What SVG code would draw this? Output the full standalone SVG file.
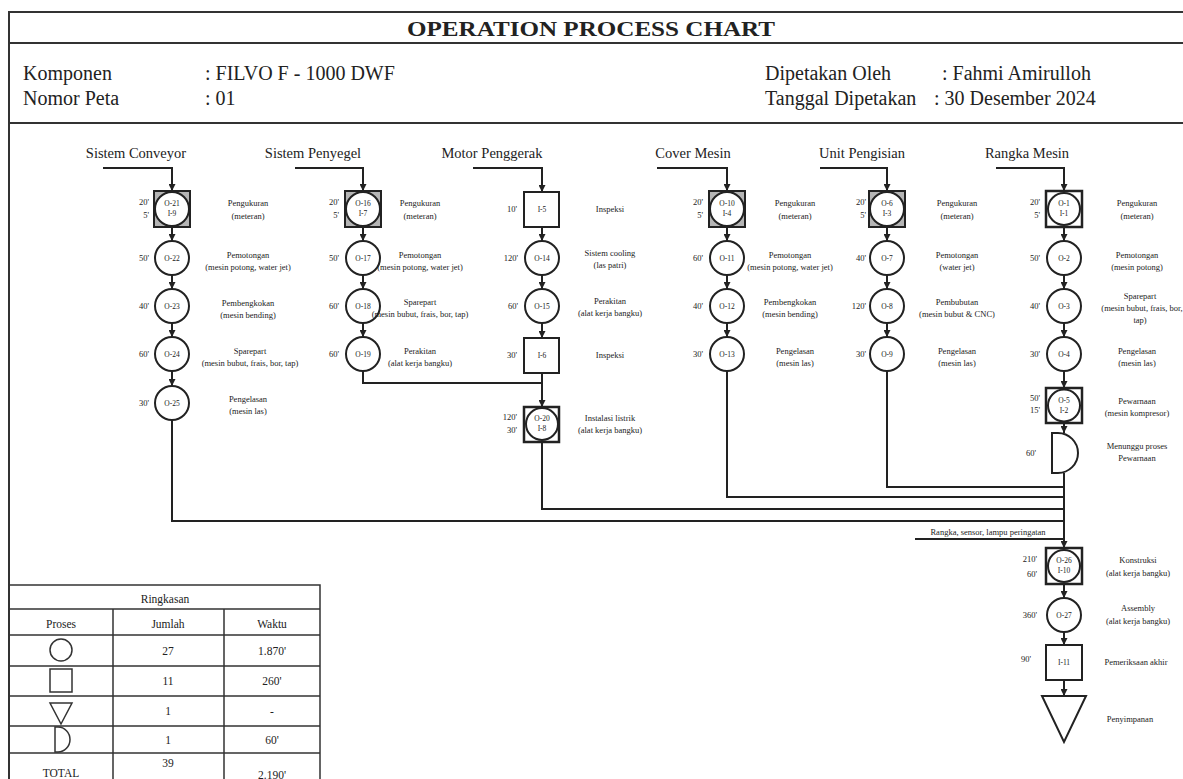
<svg xmlns="http://www.w3.org/2000/svg" width="1183" height="779" viewBox="0 0 1183 779">
<style>
text{font-family:"Liberation Serif","Times New Roman",serif;fill:#222}
.title{font-size:21px;font-weight:bold;text-anchor:middle}
.info{font-size:20px}
.h{font-size:14.5px;text-anchor:middle}
.lb{font-size:8.5px;text-anchor:middle}
.tm{font-size:8.5px;text-anchor:end}
.id{font-size:7.5px;text-anchor:middle}
.tb{font-size:11.5px;text-anchor:middle}
.frame{stroke:#333;stroke-width:2;fill:none}
.sh{stroke:#222;stroke-width:2;fill:#fff}
.shg{stroke:#222;stroke-width:2;fill:#b5b5b5}
.ln{stroke:#222;stroke-width:2;fill:none}
.ln2{stroke:#333;stroke-width:1.5;fill:none}
</style>
<defs>
<marker id="ar" markerWidth="7" markerHeight="7" refX="7" refY="3.5" orient="auto" markerUnits="userSpaceOnUse"><path d="M0,0 L7,3.5 L0,7 z" fill="#222"/></marker>
</defs>
<rect width="1183" height="779" fill="#fff"/>
<g id="frame">
<path class="frame" d="M9,779 V12 H1183"/>
<path class="frame" d="M9,43 H1183 M9,123 H1183"/>
<text class="title" x="591" y="36" textLength="368" lengthAdjust="spacingAndGlyphs">OPERATION PROCESS CHART</text>
<text class="info" x="23" y="80">Komponen</text>
<text class="info" x="205" y="80">: FILVO F - 1000 DWF</text>
<text class="info" x="23" y="105">Nomor Peta</text>
<text class="info" x="205" y="105">: 01</text>
<text class="info" x="765" y="80">Dipetakan Oleh</text>
<text class="info" x="942" y="80">: Fahmi Amirulloh</text>
<text class="info" x="765" y="105">Tanggal Dipetakan</text>
<text class="info" x="934" y="105">: 30 Desember 2024</text>
</g>
<g id="headers">
<text class="h" x="136" y="158">Sistem Conveyor</text>
<text class="h" x="313" y="158">Sistem Penyegel</text>
<text class="h" x="492" y="158">Motor Penggerak</text>
<text class="h" x="693" y="158">Cover Mesin</text>
<text class="h" x="862" y="158">Unit Pengisian</text>
<text class="h" x="1027" y="158">Rangka Mesin</text>
</g>
<g id="connectors">
<path class="ln" d="M103,168 H172 V191" marker-end="url(#ar)"/>
<path class="ln" d="M172,227 V241" marker-end="url(#ar)"/>
<path class="ln" d="M172,275 V289" marker-end="url(#ar)"/>
<path class="ln" d="M172,323 V337" marker-end="url(#ar)"/>
<path class="ln" d="M172,371 V386" marker-end="url(#ar)"/>
<path class="ln" d="M172,420 V521 H1064"/>
<path class="ln" d="M295,168 H363 V191" marker-end="url(#ar)"/>
<path class="ln" d="M363,227 V241" marker-end="url(#ar)"/>
<path class="ln" d="M363,275 V289" marker-end="url(#ar)"/>
<path class="ln" d="M363,323 V337" marker-end="url(#ar)"/>
<path class="ln" d="M363,371 V383 H542"/>
<path class="ln" d="M473,168 H542 V192" marker-end="url(#ar)"/>
<path class="ln" d="M542,227 V241" marker-end="url(#ar)"/>
<path class="ln" d="M542,275 V289" marker-end="url(#ar)"/>
<path class="ln" d="M542,323 V338" marker-end="url(#ar)"/>
<path class="ln" d="M542,373 V407" marker-end="url(#ar)"/>
<path class="ln" d="M542,442 V509 H1064"/>
<path class="ln" d="M657,168 H727 V191" marker-end="url(#ar)"/>
<path class="ln" d="M727,227 V241" marker-end="url(#ar)"/>
<path class="ln" d="M727,275 V289" marker-end="url(#ar)"/>
<path class="ln" d="M727,323 V337" marker-end="url(#ar)"/>
<path class="ln" d="M727,371 V497 H1064"/>
<path class="ln" d="M820,168 H887 V191" marker-end="url(#ar)"/>
<path class="ln" d="M887,227 V241" marker-end="url(#ar)"/>
<path class="ln" d="M887,275 V289" marker-end="url(#ar)"/>
<path class="ln" d="M887,323 V337" marker-end="url(#ar)"/>
<path class="ln" d="M887,371 V487 H1064"/>
<path class="ln" d="M996,168 H1064 V191" marker-end="url(#ar)"/>
<path class="ln" d="M1064,227 V241" marker-end="url(#ar)"/>
<path class="ln" d="M1064,275 V289" marker-end="url(#ar)"/>
<path class="ln" d="M1064,323 V337" marker-end="url(#ar)"/>
<path class="ln" d="M1064,371 V388" marker-end="url(#ar)"/>
<path class="ln" d="M1064,423 V433" marker-end="url(#ar)"/>
<path class="ln" d="M1064,473 V548" marker-end="url(#ar)"/>
<path class="ln" d="M915,539 H1064"/>
<text class="lb" x="988" y="535">Rangka, sensor, lampu peringatan</text>
<path class="ln" d="M1064,584 V598" marker-end="url(#ar)"/>
<path class="ln" d="M1064,632 V645" marker-end="url(#ar)"/>
<path class="ln" d="M1064,680 V696" marker-end="url(#ar)"/>
</g>
<!-- Sistem Conveyor -->
<g id="o21">
<rect class="shg" x="154" y="191" width="36" height="36"/><circle class="sh" cx="172" cy="209" r="17"/>
<text class="id" x="172" y="206">O-21</text><text class="id" x="172" y="216">I-9</text>
<text class="tm" x="149" y="205">20'</text><text class="tm" x="149" y="218">5'</text>
<text class="lb" x="248" y="206">Pengukuran</text><text class="lb" x="248" y="219">(meteran)</text>
</g>
<g id="o22">
<circle class="sh" cx="172" cy="258" r="17"/><text class="id" x="172" y="261">O-22</text>
<text class="tm" x="149" y="261">50'</text>
<text class="lb" x="248" y="258">Pemotongan</text><text class="lb" x="248" y="270">(mesin potong, water jet)</text>
</g>
<g id="o23">
<circle class="sh" cx="172" cy="306" r="17"/><text class="id" x="172" y="309">O-23</text>
<text class="tm" x="149" y="309">40'</text>
<text class="lb" x="248" y="306">Pembengkokan</text><text class="lb" x="248" y="318">(mesin bending)</text>
</g>
<g id="o24">
<circle class="sh" cx="172" cy="354" r="17"/><text class="id" x="172" y="357">O-24</text>
<text class="tm" x="149" y="357">60'</text>
<text class="lb" x="250" y="354">Sparepart</text><text class="lb" x="250" y="366">(mesin bubut, frais, bor, tap)</text>
</g>
<g id="o25">
<circle class="sh" cx="172" cy="403" r="17"/><text class="id" x="172" y="406">O-25</text>
<text class="tm" x="149" y="406">30'</text>
<text class="lb" x="248" y="402">Pengelasan</text><text class="lb" x="248" y="414">(mesin las)</text>
</g>
<!-- Sistem Penyegel -->
<g id="o16">
<rect class="shg" x="345" y="191" width="36" height="36"/><circle class="sh" cx="363" cy="209" r="17"/>
<text class="id" x="363" y="206">O-16</text><text class="id" x="363" y="216">I-7</text>
<text class="tm" x="339" y="205">20'</text><text class="tm" x="339" y="218">5'</text>
<text class="lb" x="420" y="206">Pengukuran</text><text class="lb" x="420" y="219">(meteran)</text>
</g>
<g id="o17">
<circle class="sh" cx="363" cy="258" r="17"/><text class="id" x="363" y="261">O-17</text>
<text class="tm" x="339" y="261">50'</text>
<text class="lb" x="420" y="258">Pemotongan</text><text class="lb" x="420" y="270">(mesin potong, water jet)</text>
</g>
<g id="o18">
<circle class="sh" cx="363" cy="306" r="17"/><text class="id" x="363" y="309">O-18</text>
<text class="tm" x="339" y="309">60'</text>
<text class="lb" x="420" y="305">Sparepart</text><text class="lb" x="420" y="317">(mesin bubut, frais, bor, tap)</text>
</g>
<g id="o19">
<circle class="sh" cx="363" cy="354" r="17"/><text class="id" x="363" y="357">O-19</text>
<text class="tm" x="339" y="357">60'</text>
<text class="lb" x="420" y="354">Perakitan</text><text class="lb" x="420" y="366">(alat kerja bangku)</text>
</g>
<!-- Motor Penggerak -->
<g id="i5">
<rect class="sh" x="524" y="192" width="35" height="35"/><text class="id" x="542" y="212">I-5</text>
<text class="tm" x="517" y="212">10'</text>
<text class="lb" x="610" y="212">Inspeksi</text>
</g>
<g id="o14">
<circle class="sh" cx="542" cy="258" r="17"/><text class="id" x="542" y="261">O-14</text>
<text class="tm" x="518" y="261">120'</text>
<text class="lb" x="610" y="256">Sistem cooling</text><text class="lb" x="610" y="268">(las patri)</text>
</g>
<g id="o15">
<circle class="sh" cx="542" cy="306" r="17"/><text class="id" x="542" y="309">O-15</text>
<text class="tm" x="518" y="309">60'</text>
<text class="lb" x="610" y="304">Perakitan</text><text class="lb" x="610" y="316">(alat kerja bangku)</text>
</g>
<g id="i6">
<rect class="sh" x="524" y="338" width="35" height="35"/><text class="id" x="542" y="358">I-6</text>
<text class="tm" x="517" y="358">30'</text>
<text class="lb" x="610" y="358">Inspeksi</text>
</g>
<g id="o20">
<rect class="sh" x="524" y="407" width="35" height="35" style="stroke-width:2.5"/><circle class="sh" cx="542" cy="424" r="16"/>
<text class="id" x="542" y="421">O-20</text><text class="id" x="542" y="431">I-8</text>
<text class="tm" x="517" y="420">120'</text><text class="tm" x="517" y="433">30'</text>
<text class="lb" x="610" y="421">Instalasi listrik</text><text class="lb" x="610" y="433">(alat kerja bangku)</text>
</g>
<!-- Cover Mesin -->
<g id="o10">
<rect class="shg" x="709" y="191" width="36" height="36"/><circle class="sh" cx="727" cy="209" r="17"/>
<text class="id" x="727" y="206">O-10</text><text class="id" x="727" y="216">I-4</text>
<text class="tm" x="703" y="205">20'</text><text class="tm" x="703" y="218">5'</text>
<text class="lb" x="795" y="206">Pengukuran</text><text class="lb" x="795" y="219">(meteran)</text>
</g>
<g id="o11">
<circle class="sh" cx="727" cy="258" r="17"/><text class="id" x="727" y="261">O-11</text>
<text class="tm" x="703" y="261">60'</text>
<text class="lb" x="790" y="258">Pemotongan</text><text class="lb" x="790" y="270">(mesin potong, water jet)</text>
</g>
<g id="o12">
<circle class="sh" cx="727" cy="306" r="17"/><text class="id" x="727" y="309">O-12</text>
<text class="tm" x="703" y="309">40'</text>
<text class="lb" x="790" y="305">Pembengkokan</text><text class="lb" x="790" y="317">(mesin bending)</text>
</g>
<g id="o13">
<circle class="sh" cx="727" cy="354" r="17"/><text class="id" x="727" y="357">O-13</text>
<text class="tm" x="703" y="357">30'</text>
<text class="lb" x="795" y="354">Pengelasan</text><text class="lb" x="795" y="366">(mesin las)</text>
</g>
<!-- Unit Pengisian -->
<g id="o6">
<rect class="shg" x="869" y="191" width="36" height="36"/><circle class="sh" cx="887" cy="209" r="17"/>
<text class="id" x="887" y="206">O-6</text><text class="id" x="887" y="216">I-3</text>
<text class="tm" x="866" y="205">20'</text><text class="tm" x="866" y="218">5'</text>
<text class="lb" x="957" y="206">Pengukuran</text><text class="lb" x="957" y="219">(meteran)</text>
</g>
<g id="o7">
<circle class="sh" cx="887" cy="258" r="17"/><text class="id" x="887" y="261">O-7</text>
<text class="tm" x="866" y="261">40'</text>
<text class="lb" x="957" y="258">Pemotongan</text><text class="lb" x="957" y="270">(water jet)</text>
</g>
<g id="o8">
<circle class="sh" cx="887" cy="306" r="17"/><text class="id" x="887" y="309">O-8</text>
<text class="tm" x="866" y="309">120'</text>
<text class="lb" x="957" y="305">Pembubutan</text><text class="lb" x="957" y="317">(mesin bubut &amp; CNC)</text>
</g>
<g id="o9">
<circle class="sh" cx="887" cy="354" r="17"/><text class="id" x="887" y="357">O-9</text>
<text class="tm" x="866" y="357">30'</text>
<text class="lb" x="957" y="354">Pengelasan</text><text class="lb" x="957" y="366">(mesin las)</text>
</g>
<!-- Rangka Mesin -->
<g id="o1">
<rect class="sh" x="1046" y="191" width="36" height="36" style="stroke-width:2.5"/><circle class="sh" cx="1064" cy="209" r="16"/>
<text class="id" x="1064" y="206">O-1</text><text class="id" x="1064" y="216">I-1</text>
<text class="tm" x="1040" y="205">20'</text><text class="tm" x="1040" y="218">5'</text>
<text class="lb" x="1137" y="206">Pengukuran</text><text class="lb" x="1137" y="219">(meteran)</text>
</g>
<g id="o2">
<circle class="sh" cx="1064" cy="258" r="17"/><text class="id" x="1064" y="261">O-2</text>
<text class="tm" x="1040" y="261">50'</text>
<text class="lb" x="1137" y="258">Pemotongan</text><text class="lb" x="1137" y="270">(mesin potong)</text>
</g>
<g id="o3">
<circle class="sh" cx="1064" cy="306" r="17"/><text class="id" x="1064" y="309">O-3</text>
<text class="tm" x="1040" y="309">40'</text>
<text class="lb" x="1140" y="299">Sparepart</text><text class="lb" x="1142" y="311">(mesin bubut, frais, bor,</text><text class="lb" x="1140" y="323">tap)</text>
</g>
<g id="o4">
<circle class="sh" cx="1064" cy="354" r="17"/><text class="id" x="1064" y="357">O-4</text>
<text class="tm" x="1040" y="357">30'</text>
<text class="lb" x="1137" y="354">Pengelasan</text><text class="lb" x="1137" y="366">(mesin las)</text>
</g>
<g id="o5">
<rect class="sh" x="1046" y="388" width="36" height="35" style="stroke-width:2.5"/><circle class="sh" cx="1064" cy="405.5" r="16"/>
<text class="id" x="1064" y="403">O-5</text><text class="id" x="1064" y="413">I-2</text>
<text class="tm" x="1040" y="401">50'</text><text class="tm" x="1040" y="413">15'</text>
<text class="lb" x="1137" y="404">Pewarnaan</text><text class="lb" x="1137" y="416">(mesin kompresor)</text>
</g>
<g id="d1">
<path class="sh" d="M1052,433 H1058 A20,20 0 0 1 1058,473 H1052 Z"/>
<text class="tm" x="1036" y="456">60'</text>
<text class="lb" x="1137" y="449">Menunggu proses</text><text class="lb" x="1137" y="461">Pewarnaan</text>
</g>
<!-- Final -->
<g id="o26">
<rect class="sh" x="1046" y="548" width="36" height="36" style="stroke-width:2.5"/><circle class="sh" cx="1064" cy="566" r="16"/>
<text class="id" x="1064" y="563">O-26</text><text class="id" x="1064" y="573">I-10</text>
<text class="tm" x="1037" y="562">210'</text><text class="tm" x="1037" y="577">60'</text>
<text class="lb" x="1138" y="563">Konstruksi</text><text class="lb" x="1138" y="576">(alat kerja bangku)</text>
</g>
<g id="o27">
<circle class="sh" cx="1064" cy="615" r="17"/><text class="id" x="1064" y="618">O-27</text>
<text class="tm" x="1037" y="618">360'</text>
<text class="lb" x="1138" y="611">Assembly</text><text class="lb" x="1138" y="624">(alat kerja bangku)</text>
</g>
<g id="i11">
<rect class="sh" x="1046" y="645" width="36" height="35"/><text class="id" x="1064" y="665">I-11</text>
<text class="tm" x="1031" y="662">90'</text>
<text class="lb" x="1136" y="665">Pemeriksaan akhir</text>
</g>
<g id="s1">
<path class="sh" d="M1042,696 H1086 L1064,742 Z"/>
<text class="lb" x="1130" y="722">Penyimpanan</text>
</g>
<!-- Summary table -->
<g id="table">
<path class="ln2" d="M9,585 H320 V779 M9,609 H320 M9,635 H320 M9,666 H320 M9,696 H320 M9,726 H320 M9,753 H320 M113,609 V779 M224,609 V779"/>
<text class="tb" x="165" y="603">Ringkasan</text>
<text class="tb" x="61" y="628">Proses</text>
<text class="tb" x="168" y="628">Jumlah</text>
<text class="tb" x="272" y="628">Waktu</text>
<circle class="ln2" cx="61" cy="650" r="11"/>
<rect class="ln2" x="50" y="669" width="22" height="23"/>
<path class="ln2" d="M50,703 H72 L61,724 Z"/>
<path class="ln2" d="M55,727 H58 A12,12.5 0 0 1 58,752 H55 Z"/>
<text class="tb" x="168" y="655">27</text><text class="tb" x="272" y="655">1.870'</text>
<text class="tb" x="168" y="685">11</text><text class="tb" x="272" y="685">260'</text>
<text class="tb" x="168" y="715">1</text><text class="tb" x="272" y="715">-</text>
<text class="tb" x="168" y="744">1</text><text class="tb" x="272" y="744">60'</text>
<text class="tb" x="61" y="777">TOTAL</text><text class="tb" x="168" y="767">39</text><text class="tb" x="272" y="779">2.190'</text>
</g>
</svg>
